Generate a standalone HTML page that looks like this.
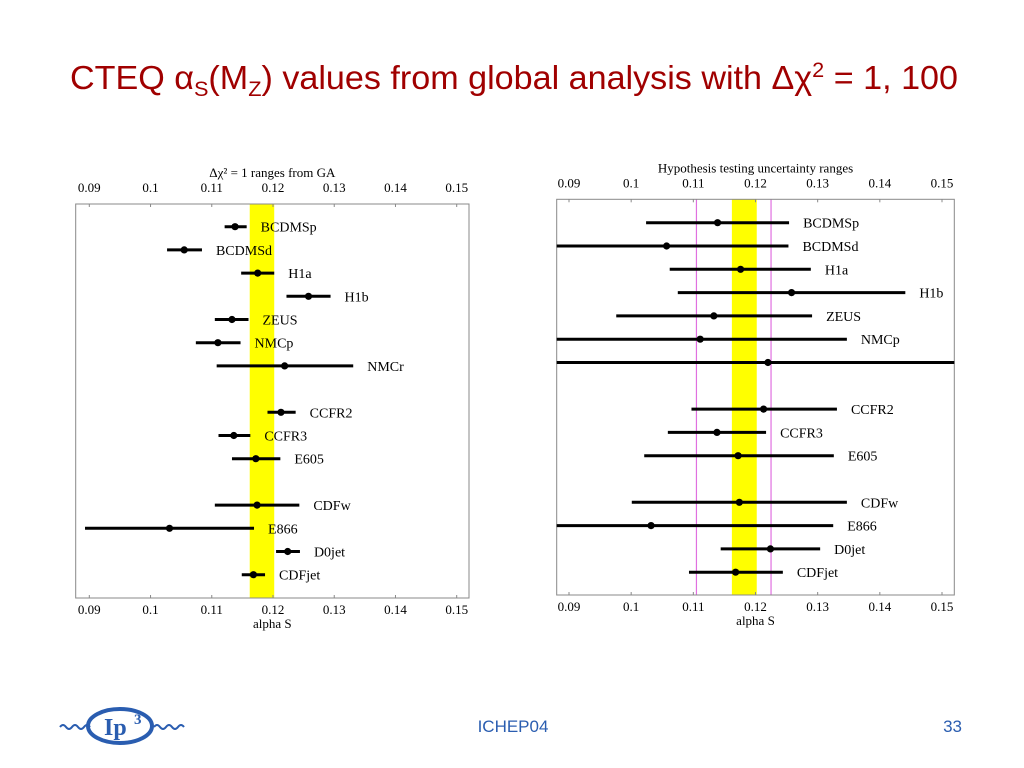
<!DOCTYPE html>
<html><head><meta charset="utf-8"><style>
body{margin:0;background:#fff;width:1024px;height:768px;overflow:hidden}
svg{display:block}
</style></head><body>
<svg width="1024" height="768" xmlns="http://www.w3.org/2000/svg">
<text x="70" y="89" textLength="888" lengthAdjust="spacingAndGlyphs" font-family="Liberation Sans, sans-serif" font-size="33" fill="#a00000">CTEQ α<tspan font-size="21" dy="7">S</tspan><tspan dy="-7">(M</tspan><tspan font-size="21" dy="7">Z</tspan><tspan dy="-7">) values from global analysis with Δχ</tspan><tspan font-size="21" dy="-12">2</tspan><tspan dy="12"> = 1, 100</tspan></text>
<g id="left"></g>
<g id="right"></g>
<g fill="none" stroke="#2a5db0" stroke-width="2">
<path d="M60 727 q3 -4 6 0 t6 0 t6 0 t6 0 t6 0"/>
<ellipse cx="120" cy="726" rx="32" ry="17" stroke-width="4"/>
<path d="M154 727 q3 -4 6 0 t6 0 t6 0 t6 0 t6 0"/>
<text x="104" y="735" font-family="Liberation Serif, serif" font-size="24" font-weight="bold" fill="#2a5db0" stroke="none">Ip</text>
<text x="134" y="724" font-family="Liberation Serif, serif" font-size="15" font-weight="bold" fill="#2a5db0" stroke="none">3</text>
</g>
<text x="513" y="732" text-anchor="middle" font-family="Liberation Sans, sans-serif" font-size="17" fill="#2a5db0">ICHEP04</text>
<text x="962" y="732" text-anchor="end" font-family="Liberation Sans, sans-serif" font-size="17" fill="#2a5db0">33</text>
</svg>
<script>
const labels = ["BCDMSp","BCDMSd","H1a","H1b","ZEUS","NMCp","NMCr","CCFR2","CCFR3","E605","CDFw","E866","D0jet","CDFjet"];
const rowSlots = [0,1,2,3,4,5,6,8,9,10,12,13,14,15];
const ticks = [0.09,0.1,0.11,0.12,0.13,0.14,0.15];
const tickLabels = ["0.09","0.1","0.11","0.12","0.13","0.14","0.15"];
const band = [0.1162,0.1202];
const leftCenter = [0.1138,0.1055,0.1175,0.1258,0.1133,0.1110,0.1219,0.1213,0.1136,0.1172,0.1174,0.1031,0.1224,0.1168];
const leftLow =    [0.1121,0.1027,0.1148,0.1222,0.1105,0.1074,0.1108,0.1191,0.1111,0.1133,0.1105,0.0893,0.1205,0.1149];
const leftHigh =   [0.1157,0.1084,0.1202,0.1294,0.1160,0.1147,0.1331,0.1237,0.1163,0.1212,0.1243,0.1169,0.1244,0.1187];
const rightCenter = [0.1139,0.1057,0.1176,0.1258,0.1133,0.1111,0.1220,0.1213,0.1138,0.1172,0.1174,0.1032,0.1224,0.1168];
const rightLow =    [0.1024,0.0800,0.1062,0.1075,0.0976,0.0800,0.0800,0.1097,0.1059,0.1021,0.1001,0.0800,0.1144,0.1093];
const rightHigh =   [0.1254,0.1253,0.1289,0.1441,0.1291,0.1347,0.1600,0.1331,0.1217,0.1326,0.1347,0.1325,0.1304,0.1244];
const magenta = [0.1105,0.1225];
const NS="http://www.w3.org/2000/svg";
function mk(p,t,a){const e=document.createElementNS(NS,t);for(const k in a)e.setAttribute(k,a[k]);p.appendChild(e);return e;}
function draw(g,cfg,center,low,high,title,vlines){
  const x=v=>cfg.x09+(v-0.09)*(cfg.x15-cfg.x09)/0.06;
  const y=s=>cfg.y0+s*cfg.dy;
  const xmin=(0.09-(cfg.x09-cfg.L)*0.06/(cfg.x15-cfg.x09)), xmax=0.09+(cfg.R-cfg.x09)*0.06/(cfg.x15-cfg.x09);
  const cl=v=>Math.max(xmin,Math.min(xmax,v));
  const b=mk(g,'rect',{x:x(band[0]),y:cfg.T,width:x(band[1])-x(band[0]),height:cfg.B-cfg.T,fill:'#ffff00'});
  
  
  vlines.forEach(v=>{const l=mk(g,'line',{x1:x(v),x2:x(v),y1:cfg.T,y2:cfg.B,stroke:'#e070e0','stroke-width':1.2});
    
    });
  const fr=mk(g,'rect',{x:cfg.L,y:cfg.T,width:cfg.R-cfg.L,height:cfg.B-cfg.T,fill:'none',stroke:'#888','stroke-width':1});
  
  
  const tt=mk(g,'text',{x:(cfg.L+cfg.R)/2,y:cfg.T-27,'text-anchor':'middle','font-family':'Liberation Serif, serif','font-size':13});
  tt.textContent=title;
  
  
  ticks.forEach((t,i)=>{
    [[cfg.T-12,'top-tick-label'],[cfg.B+16,'bottom-tick-label']].forEach(([yy,n])=>{
      const e=mk(g,'text',{x:x(t),y:yy,'text-anchor':'middle','font-family':'Liberation Serif, serif','font-size':13});
      e.textContent=tickLabels[i];
      
      });
    mk(g,'line',{x1:x(t),x2:x(t),y1:cfg.T,y2:cfg.T+3,stroke:'#888'});
    mk(g,'line',{x1:x(t),x2:x(t),y1:cfg.B,y2:cfg.B-3,stroke:'#888'});
  });
  const xl=mk(g,'text',{x:(cfg.L+cfg.R)/2,y:cfg.B+30,'text-anchor':'middle','font-family':'Liberation Serif, serif','font-size':13});
  xl.textContent='alpha S';
  
  
  labels.forEach((lab,i)=>{
    const yy=y(rowSlots[i]);
    const ln=mk(g,'line',{x1:x(cl(low[i])),x2:x(cl(high[i])),y1:yy,y2:yy,stroke:'#000','stroke-width':3});
    
    
    const c=mk(g,'circle',{cx:x(center[i]),cy:yy,r:3.6,fill:'#000'});
    
    
    if(high[i]<xmax-0.003){
      const t=mk(g,'text',{x:x(high[i])+14,y:yy+5,'font-family':'Liberation Serif, serif','font-size':14});
      t.textContent=lab;
      
      
    }
  });
}
draw(document.getElementById('left'),{L:75.7,R:469,T:204,B:598,x09:89.3,x15:456.7,y0:226.7,dy:23.2},leftCenter,leftLow,leftHigh,'Δχ² = 1 ranges from GA',[]);
draw(document.getElementById('right'),{L:556.7,R:954.3,T:199.3,B:595,x09:569,x15:942,y0:222.7,dy:23.3},rightCenter,rightLow,rightHigh,'Hypothesis testing uncertainty ranges',magenta);
</script>
</body></html>
